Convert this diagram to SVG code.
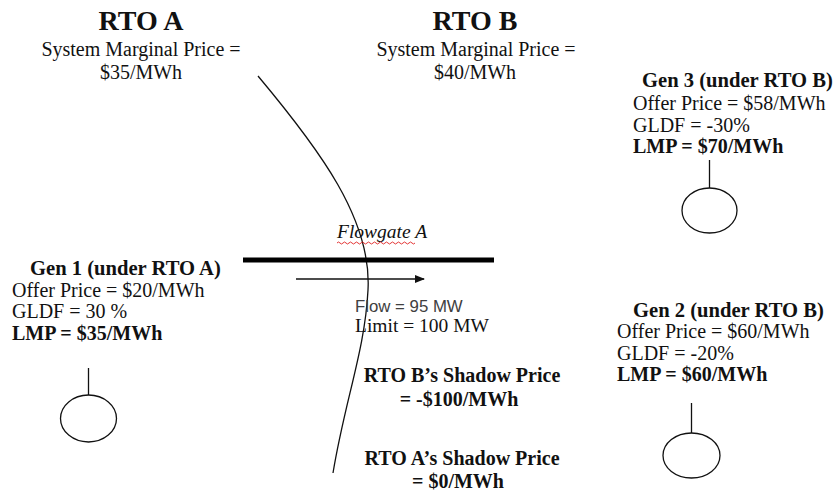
<svg xmlns="http://www.w3.org/2000/svg" width="834" height="491" viewBox="0 0 834 491">
<defs>
<style>
.t{font-family:"Liberation Serif","Times New Roman",serif;font-size:20px;fill:#111}
.b{font-weight:bold}
.g{font-size:20.6px}
.h{font-family:"Liberation Serif","Times New Roman",serif;font-size:28px;font-weight:bold;fill:#111}
.c{text-anchor:middle}
.s{font-family:"Liberation Sans",Arial,sans-serif;font-size:16.8px;fill:#404040}
.ln{stroke:#111;stroke-width:1.3;fill:none}
.gen{stroke:#111;stroke-width:1.3;fill:#fff}
</style>
<marker id="ah" markerWidth="10" markerHeight="8" refX="9" refY="4" orient="auto" markerUnits="userSpaceOnUse">
<path d="M0,0 L10,4 L0,8 Z" fill="#111"/>
</marker>
</defs>
<rect width="834" height="491" fill="#fff"/>

<g id="rto-a">
<text class="h c" x="141" y="30">RTO A</text>
<text class="t c" x="141" y="56">System Marginal Price =</text>
<text class="t c" x="141" y="79">$35/MWh</text>
</g>

<g id="rto-b">
<text class="h c" x="475" y="30">RTO B</text>
<text class="t c" x="476" y="56">System Marginal Price =</text>
<text class="t c" x="475" y="79">$40/MWh</text>
</g>

<g id="boundary">
<path class="ln" d="M258,76 C320,150 372,220 368,290 C365,350 345,400 333,473"/>
</g>

<g id="flowgate">
<text class="t" x="337" y="238" style="font-style:italic;font-size:19.5px">Flowgate A</text>
<path d="M337,243 q1.5,-2 3,0 t3,0 t3,0 t3,0 t3,0 t3,0 t3,0 t3,0 t3,0 t3,0 t3,0 t3,0 t3,0 t3,0 t3,0 t3,0 t3,0 t3,0 t3,0 t3,0 t3,0 t3,0 t3,0 t3,0 t3,0 t3,0" fill="none" stroke="#e02020" stroke-width="0.9"/>
<line x1="243" y1="260" x2="494" y2="260" stroke="#000" stroke-width="5"/>
<text class="s" x="355" y="312">Flow = 95 MW</text>
<text class="t" x="355" y="332" style="font-size:19.5px">Limit = 100 MW</text>
</g>

<g id="connectors">
<line class="ln" x1="296" y1="279" x2="424" y2="279" marker-end="url(#ah)"/>
<line class="ln" x1="88.5" y1="368" x2="88.5" y2="395"/>
<line class="ln" x1="709.5" y1="160" x2="709.5" y2="188"/>
<line class="ln" x1="691.5" y1="403" x2="691.5" y2="433"/>
</g>

<g id="gen1">
<text class="t b g" x="30" y="275">Gen 1 (under RTO A)</text>
<text class="t" x="12" y="297">Offer Price = $20/MWh</text>
<text class="t" x="12" y="318">GLDF = 30 %</text>
<text class="t b" x="12" y="340">LMP = $35/MWh</text>
<ellipse class="gen" cx="88.5" cy="418.5" rx="28" ry="23.5"/>
</g>

<g id="gen3">
<text class="t b g" x="642" y="87">Gen 3 (under RTO B)</text>
<text class="t" x="633" y="110">Offer Price = $58/MWh</text>
<text class="t" x="633" y="132">GLDF = -30%</text>
<text class="t b" x="633" y="153">LMP = $70/MWh</text>
<ellipse class="gen" cx="709.5" cy="210.5" rx="27.5" ry="22.5"/>
</g>

<g id="gen2">
<text class="t b g" x="633" y="317">Gen 2 (under RTO B)</text>
<text class="t" x="617" y="338">Offer Price = $60/MWh</text>
<text class="t" x="617" y="360">GLDF = -20%</text>
<text class="t b" x="617" y="381">LMP = $60/MWh</text>
<ellipse class="gen" cx="691.5" cy="455.5" rx="28.5" ry="22.5"/>
</g>

<g id="shadow-b">
<text class="t b c" x="462" y="382">RTO B’s Shadow Price</text>
<text class="t b c" x="459" y="406">= -$100/MWh</text>
</g>

<g id="shadow-a">
<text class="t b c" x="462" y="465">RTO A’s Shadow Price</text>
<text class="t b c" x="458" y="488">= $0/MWh</text>
</g>
</svg>
